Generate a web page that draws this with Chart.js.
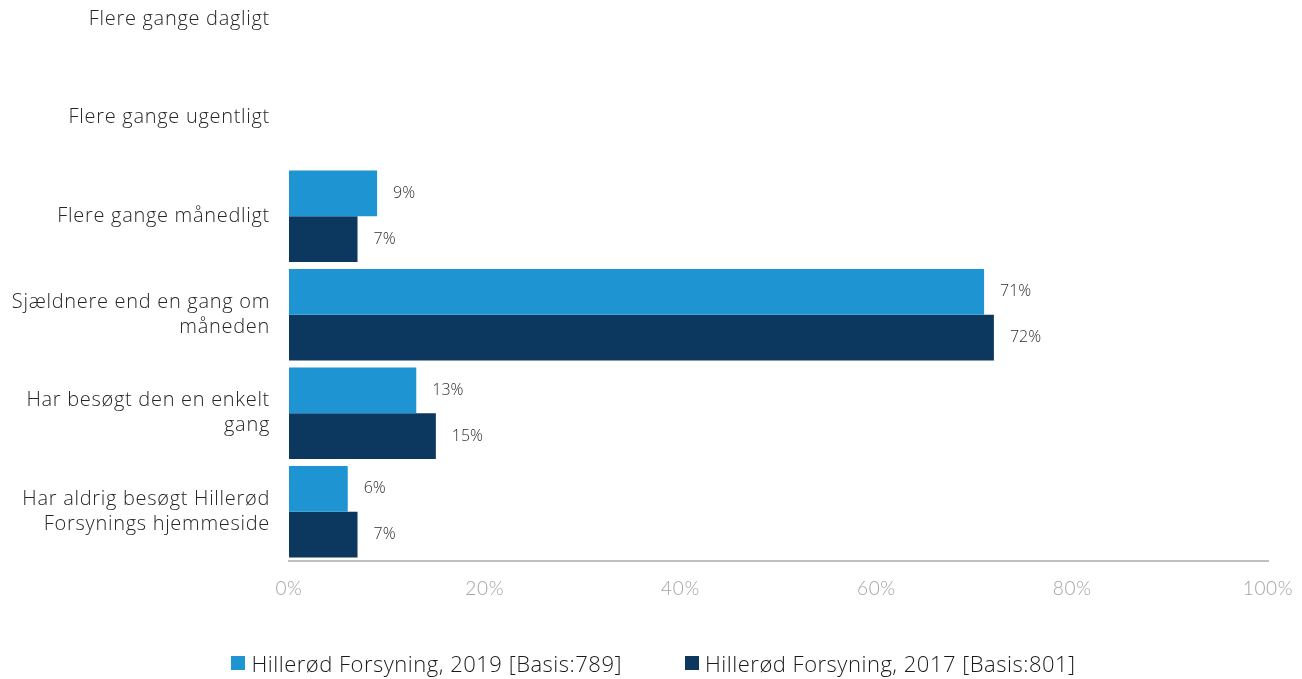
<!DOCTYPE html>
<html>
<head>
<meta charset="utf-8">
<script src="https://cdn.jsdelivr.net/npm/chart.js@4/dist/chart.umd.min.js"></script>
<style>
  html, body { margin: 0; padding: 0; background: #fff; overflow: hidden; width: 1302px; height: 679px; }
  #c { position: absolute; left: 0; top: -74px; }
  #legend {
    position: absolute; left: 0; top: 650px; width: 1307px;
    display: flex; justify-content: center; gap: 63px;
    font-family: "Open Sans", "Lato", sans-serif; font-weight: 300; font-size: 22px;
    letter-spacing: 0.5px; color: #1a1a1a; line-height: 26px;
  }
  #legend .item { display: flex; align-items: center; white-space: nowrap; }
  #legend .box { width: 14px; height: 14px; margin-right: 6px; }
</style>
</head>
<body>
<canvas id="c" width="1302" height="753"></canvas>
<div id="legend"></div>
<script>
// Answer categories (y axis)
const categories = [
  'Flere gange dagligt',
  'Flere gange ugentligt',
  'Flere gange månedligt',
  ['Sjældnere end en gang om', 'måneden'],
  ['Har besøgt den en enkelt', 'gang'],
  ['Har aldrig besøgt Hillerød', 'Forsynings hjemmeside']
];

// Share of respondents, in percent
const values2019 = [null, null, 9, 71, 13, 6];
const values2017 = [null, null, 7, 72, 15, 7];

const seriesNames = [
  'Hillerød Forsyning, 2019 [Basis:789]',
  'Hillerød Forsyning, 2017 [Basis:801]'
];

const seriesColors = ['#1e95d2', '#0c375e'];

const xTicks = [0, 20, 40, 60, 80, 100];

const FONT = '"Open Sans", "Lato", sans-serif';

// Slightly wider tracking for the axis labels
const axisTracking = {
  id: 'axisTracking',
  beforeDraw(chart) { chart.ctx.letterSpacing = '0.7px'; },
  beforeDatasetsDraw(chart) { chart.ctx.letterSpacing = '0px'; }
};

// Writes the percentage just past the end of each bar
const valueLabels = {
  id: 'valueLabels',
  afterDatasetsDraw(chart) {
    const ctx = chart.ctx;
    ctx.save();
    ctx.font = '300 16px ' + FONT;
    ctx.fillStyle = '#2e2e2e';
    ctx.textAlign = 'left';
    ctx.textBaseline = 'middle';
    chart.data.datasets.forEach((ds, i) => {
      const meta = chart.getDatasetMeta(i);
      meta.data.forEach((bar, j) => {
        const v = ds.data[j];
        if (v === null || v === undefined) return;
        ctx.fillText(v + '%', bar.x + 16, bar.y);
      });
    });
    ctx.restore();
  }
};

// Builds the legend below the chart from the chart's own legend items
const htmlLegend = {
  id: 'htmlLegend',
  afterUpdate(chart) {
    const host = document.getElementById('legend');
    host.innerHTML = '';
    const items = chart.options.plugins.legend.labels.generateLabels(chart);
    items.forEach(item => {
      const el = document.createElement('div');
      el.className = 'item';
      const box = document.createElement('span');
      box.className = 'box';
      box.style.background = item.fillStyle;
      const txt = document.createElement('span');
      txt.textContent = item.text;
      el.appendChild(box);
      el.appendChild(txt);
      host.appendChild(el);
    });
  }
};

new Chart(document.getElementById('c'), {
  type: 'bar',
  data: {
    labels: categories,
    datasets: [
      { label: seriesNames[0], data: values2019, backgroundColor: seriesColors[0] },
      { label: seriesNames[1], data: values2017, backgroundColor: seriesColors[1] }
    ]
  },
  options: {
    indexAxis: 'y',
    responsive: false,
    animation: false,
    layout: { padding: { top: 0, left: 0, right: 34, bottom: 0 } },
    datasets: { bar: { categoryPercentage: 0.93, barPercentage: 1.0 } },
    scales: {
      x: {
        min: 0,
        max: 100,
        afterBuildTicks(scale) { scale.ticks = xTicks.map(v => ({ value: v })); },
        afterFit(scale) {
          scale.height = 118;
          scale.paddingLeft = 0;
          scale.paddingRight = 0;
        },
        grid: { display: false, drawTicks: false },
        border: { display: true, color: '#bfbfbf', width: 2 },
        ticks: {
          padding: 16,
          color: '#a3a3a3',
          font: { family: '"Lato", sans-serif', size: 19, weight: '300' },
          callback: v => v + '%'
        }
      },
      y: {
        afterFit(scale) { scale.width = 289; },
        grid: { display: false, drawTicks: false },
        border: { display: false },
        ticks: {
          padding: 19,
          color: '#262626',
          font: { family: FONT, size: 20, weight: '300', lineHeight: 1.25 }
        }
      }
    },
    plugins: {
      legend: { display: false },
      tooltip: { enabled: false }
    }
  },
  plugins: [axisTracking, valueLabels, htmlLegend]
});
</script>
</body>
</html>
